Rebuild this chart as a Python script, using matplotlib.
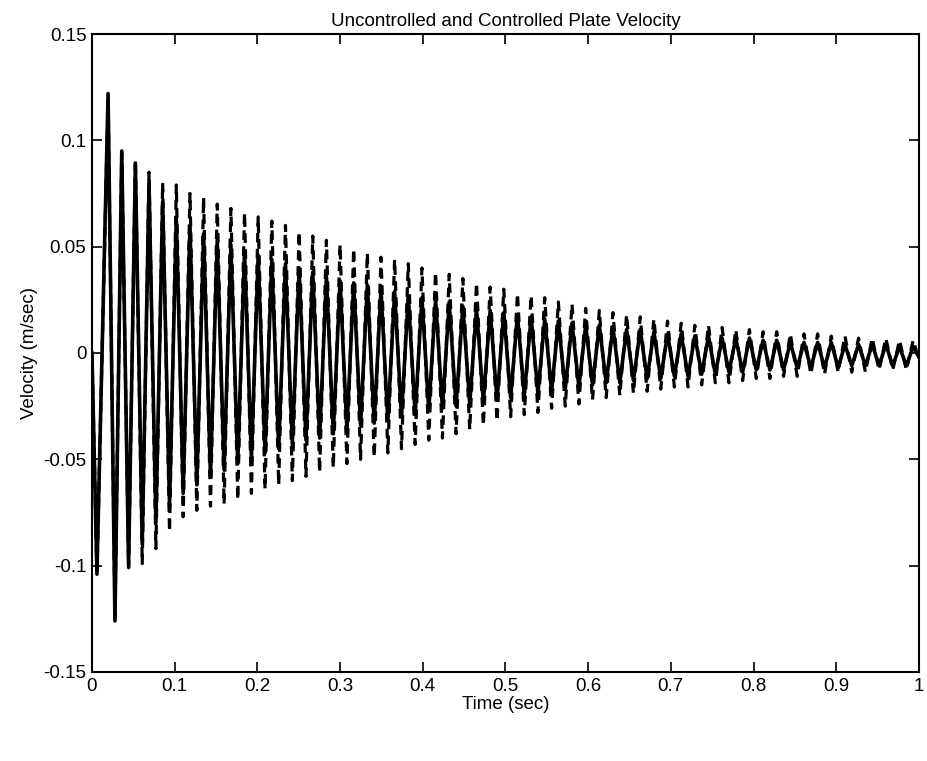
import numpy as np
import matplotlib.pyplot as plt

# -------------------------
# DATA (extrema)
# -------------------------
time_sec = [
    0.0, 0.006,
    0.0195, 0.0278, 0.0360, 0.0443, 0.0525, 0.0608, 0.0690, 0.0773, 0.0855, 0.0938,
    0.1020, 0.1103, 0.1185, 0.1268, 0.1350, 0.1433, 0.1515, 0.1598, 0.1680, 0.1763,
    0.1845, 0.1928, 0.2010, 0.2093, 0.2175, 0.2258, 0.2340, 0.2423, 0.2505, 0.2588,
    0.2670, 0.2753, 0.2835, 0.2918, 0.3000, 0.3083, 0.3165, 0.3248, 0.3330, 0.3413,
    0.3495, 0.3578, 0.3660, 0.3743, 0.3825, 0.3908, 0.3990, 0.4073, 0.4155, 0.4238,
    0.4320, 0.4403, 0.4485, 0.4568, 0.4650, 0.4733, 0.4815, 0.4898, 0.4980, 0.5063,
    0.5145, 0.5228, 0.5310, 0.5393, 0.5475, 0.5558, 0.5640, 0.5723, 0.5805, 0.5888,
    0.5970, 0.6053, 0.6135, 0.6218, 0.6300, 0.6383, 0.6465, 0.6548, 0.6630, 0.6713,
    0.6795, 0.6878, 0.6960, 0.7043, 0.7125, 0.7208, 0.7290, 0.7373, 0.7455, 0.7538,
    0.7620, 0.7703, 0.7785, 0.7868, 0.7950, 0.8033, 0.8115, 0.8198, 0.8280, 0.8363,
    0.8445, 0.8528, 0.8610, 0.8693, 0.8775, 0.8858, 0.8940, 0.9023, 0.9105, 0.9188,
    0.9270, 0.9353, 0.9435, 0.9518, 0.9600, 0.9683, 0.9765, 0.9848, 0.9930, 1.0,
]

# controlled plate velocity (solid)
controlled = [
    0.0, -0.104,
    0.122, -0.126, 0.095, -0.100, 0.089, -0.090, 0.080, -0.080, 0.071, -0.072,
    0.064, -0.066, 0.060, -0.062, 0.056, -0.058, 0.053, -0.055, 0.051, -0.052,
    0.048, -0.050, 0.046, -0.047, 0.044, -0.045, 0.042, -0.043, 0.040, -0.041,
    0.038, -0.040, 0.036, -0.038, 0.034, -0.036, 0.033, -0.034, 0.032, -0.033,
    0.030, -0.032, 0.029, -0.030, 0.027, -0.029, 0.026, -0.027, 0.025, -0.026,
    0.024, -0.025, 0.022, -0.024, 0.021, -0.023, 0.020, -0.022, 0.019, -0.021,
    0.018, -0.020, 0.017, -0.019, 0.016, -0.018, 0.015, -0.017, 0.014, -0.016,
    0.013, -0.015, 0.013, -0.014, 0.012, -0.014, 0.011, -0.013, 0.011, -0.012,
    0.010, -0.012, 0.009, -0.011, 0.009, -0.011, 0.008, -0.010, 0.008, -0.010,
    0.007, -0.009, 0.007, -0.009, 0.007, -0.008, 0.006, -0.008, 0.006, -0.008,
    0.005, -0.007, 0.005, -0.007, 0.005, -0.007, 0.005, -0.007, 0.004, -0.006,
    0.004, -0.006, 0.004, -0.006, 0.004, -0.006, 0.003, -0.006, 0.003, -0.002,
]

# uncontrolled plate velocity (dashed)
uncontrolled = [
    0.0, -0.104,
    0.120, -0.124, 0.094, -0.101, 0.091, -0.099, 0.085, -0.092, 0.080, -0.084,
    0.079, -0.077, 0.075, -0.074, 0.073, -0.072, 0.070, -0.071, 0.068, -0.069,
    0.066, -0.066, 0.064, -0.064, 0.062, -0.062, 0.060, -0.060, 0.057, -0.058,
    0.055, -0.056, 0.053, -0.054, 0.051, -0.052, 0.049, -0.050, 0.047, -0.049,
    0.045, -0.047, 0.044, -0.045, 0.042, -0.043, 0.040, -0.041, 0.038, -0.040,
    0.037, -0.038, 0.035, -0.036, 0.033, -0.034, 0.031, -0.032, 0.030, -0.030,
    0.028, -0.029, 0.027, -0.028, 0.026, -0.026, 0.024, -0.025, 0.023, -0.024,
    0.021, -0.022, 0.020, -0.021, 0.019, -0.020, 0.018, -0.019, 0.017, -0.018,
    0.016, -0.017, 0.015, -0.016, 0.014, -0.016, 0.013, -0.015, 0.013, -0.014,
    0.012, -0.014, 0.011, -0.013, 0.011, -0.012, 0.010, -0.012, 0.010, -0.011,
    0.009, -0.011, 0.009, -0.010, 0.009, -0.010, 0.008, -0.009, 0.008, -0.009,
    0.007, -0.009, 0.007, -0.008, 0.007, -0.008, 0.006, -0.008, 0.006, -0.003,
]

x_ticks = [0, 0.1, 0.2, 0.3, 0.4, 0.5, 0.6, 0.7, 0.8, 0.9, 1]
x_tick_labels = ["0", "0.1", "0.2", "0.3", "0.4", "0.5", "0.6", "0.7", "0.8", "0.9", "1"]
y_ticks = [-0.15, -0.1, -0.05, 0, 0.05, 0.1, 0.15]
y_tick_labels = ["-0.15", "-0.1", "-0.05", "0", "0.05", "0.1", "0.15"]

# -------------------------
# PLOT
# -------------------------
plt.rcParams["font.family"] = ["Liberation Sans", "DejaVu Sans"]
plt.rcParams["axes.unicode_minus"] = False

fig = plt.figure(figsize=(9.27, 7.61), dpi=100)
# box from x=92..919 px, y=34..672 px
ax = fig.add_axes([0.0992, 0.1170, 0.8921, 0.8383])

ax.plot(time_sec, uncontrolled, color="black", lw=2.3, linestyle=(0, (3, 2)))
ax.plot(time_sec, controlled, color="black", lw=2.6)

ax.set_xlim(0, 1)
ax.set_ylim(-0.15, 0.15)
ax.set_xticks(x_ticks)
ax.set_xticklabels(x_tick_labels)
ax.set_yticks(y_ticks)
ax.set_yticklabels(y_tick_labels)
ax.tick_params(direction="in", length=7, width=1.2, top=True, right=True,
               labelsize=13.5, pad=4)
for s in ax.spines.values():
    s.set_linewidth(1.5)

ax.set_title("Uncontrolled and Controlled Plate Velocity", fontsize=13.5, pad=6)
ax.set_xlabel("Time (sec)", fontsize=13.5, labelpad=1)
ax.set_ylabel("Velocity (m/sec)", fontsize=13.5, labelpad=4)

fig.savefig("out.png", dpi=100)
